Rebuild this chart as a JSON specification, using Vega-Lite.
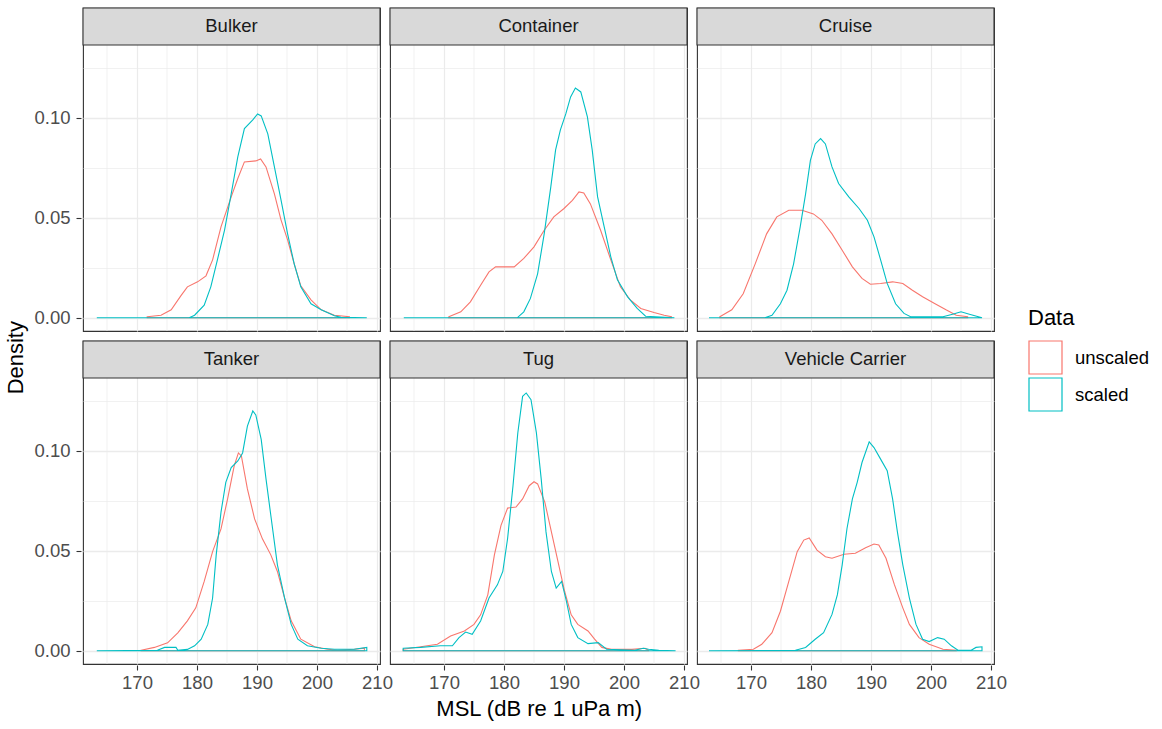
{
  "$schema": "https://vega.github.io/schema/vega-lite/v6.json",
  "padding": {"left": 4, "top": 5, "right": 5, "bottom": 2},
  "title": {"text": "Density", "orient": "left", "anchor": "middle", "fontSize": 22, "fontWeight": "normal", "color": "#000000", "font": "Liberation Sans", "offset": 6, "dx": 5},
  "datasets": {
    "dens": [
      {"Vessel":"Bulker","Data":"unscaled","MSL":171.7,"Density":0.0005},
      {"Vessel":"Bulker","Data":"unscaled","MSL":174.0,"Density":0.0013},
      {"Vessel":"Bulker","Data":"unscaled","MSL":175.7,"Density":0.004},
      {"Vessel":"Bulker","Data":"unscaled","MSL":177.3,"Density":0.011},
      {"Vessel":"Bulker","Data":"unscaled","MSL":178.4,"Density":0.0155},
      {"Vessel":"Bulker","Data":"unscaled","MSL":180.1,"Density":0.018},
      {"Vessel":"Bulker","Data":"unscaled","MSL":181.5,"Density":0.021},
      {"Vessel":"Bulker","Data":"unscaled","MSL":182.6,"Density":0.029},
      {"Vessel":"Bulker","Data":"unscaled","MSL":184.0,"Density":0.0455},
      {"Vessel":"Bulker","Data":"unscaled","MSL":185.7,"Density":0.0605},
      {"Vessel":"Bulker","Data":"unscaled","MSL":186.8,"Density":0.0697},
      {"Vessel":"Bulker","Data":"unscaled","MSL":187.9,"Density":0.078},
      {"Vessel":"Bulker","Data":"unscaled","MSL":189.8,"Density":0.0785},
      {"Vessel":"Bulker","Data":"unscaled","MSL":190.6,"Density":0.0795},
      {"Vessel":"Bulker","Data":"unscaled","MSL":191.5,"Density":0.0755},
      {"Vessel":"Bulker","Data":"unscaled","MSL":192.9,"Density":0.062},
      {"Vessel":"Bulker","Data":"unscaled","MSL":194.0,"Density":0.049},
      {"Vessel":"Bulker","Data":"unscaled","MSL":195.1,"Density":0.039},
      {"Vessel":"Bulker","Data":"unscaled","MSL":196.2,"Density":0.027},
      {"Vessel":"Bulker","Data":"unscaled","MSL":197.3,"Density":0.016},
      {"Vessel":"Bulker","Data":"unscaled","MSL":199.0,"Density":0.009},
      {"Vessel":"Bulker","Data":"unscaled","MSL":200.7,"Density":0.004},
      {"Vessel":"Bulker","Data":"unscaled","MSL":202.9,"Density":0.0013},
      {"Vessel":"Bulker","Data":"unscaled","MSL":205.4,"Density":0.0005},

      {"Vessel":"Container","Data":"unscaled","MSL":170.8,"Density":0.0005},
      {"Vessel":"Container","Data":"unscaled","MSL":172.8,"Density":0.003},
      {"Vessel":"Container","Data":"unscaled","MSL":174.4,"Density":0.008},
      {"Vessel":"Container","Data":"unscaled","MSL":176.1,"Density":0.0163},
      {"Vessel":"Container","Data":"unscaled","MSL":177.5,"Density":0.023},
      {"Vessel":"Container","Data":"unscaled","MSL":178.6,"Density":0.0255},
      {"Vessel":"Container","Data":"unscaled","MSL":180.0,"Density":0.0255},
      {"Vessel":"Container","Data":"unscaled","MSL":181.7,"Density":0.0255},
      {"Vessel":"Container","Data":"unscaled","MSL":183.3,"Density":0.0297},
      {"Vessel":"Container","Data":"unscaled","MSL":185.0,"Density":0.0355},
      {"Vessel":"Container","Data":"unscaled","MSL":186.7,"Density":0.0438},
      {"Vessel":"Container","Data":"unscaled","MSL":188.3,"Density":0.0505},
      {"Vessel":"Container","Data":"unscaled","MSL":190.0,"Density":0.0547},
      {"Vessel":"Container","Data":"unscaled","MSL":191.4,"Density":0.0588},
      {"Vessel":"Container","Data":"unscaled","MSL":192.5,"Density":0.063},
      {"Vessel":"Container","Data":"unscaled","MSL":193.3,"Density":0.0625},
      {"Vessel":"Container","Data":"unscaled","MSL":194.4,"Density":0.057},
      {"Vessel":"Container","Data":"unscaled","MSL":196.1,"Density":0.0438},
      {"Vessel":"Container","Data":"unscaled","MSL":197.8,"Density":0.029},
      {"Vessel":"Container","Data":"unscaled","MSL":199.4,"Density":0.0155},
      {"Vessel":"Container","Data":"unscaled","MSL":201.1,"Density":0.0088},
      {"Vessel":"Container","Data":"unscaled","MSL":202.8,"Density":0.0047},
      {"Vessel":"Container","Data":"unscaled","MSL":205.0,"Density":0.0027},
      {"Vessel":"Container","Data":"unscaled","MSL":206.7,"Density":0.0013},
      {"Vessel":"Container","Data":"unscaled","MSL":207.9,"Density":0.0005},

      {"Vessel":"Cruise","Data":"unscaled","MSL":164.8,"Density":0.0005},
      {"Vessel":"Cruise","Data":"unscaled","MSL":166.8,"Density":0.004},
      {"Vessel":"Cruise","Data":"unscaled","MSL":168.7,"Density":0.012},
      {"Vessel":"Cruise","Data":"unscaled","MSL":170.7,"Density":0.027},
      {"Vessel":"Cruise","Data":"unscaled","MSL":172.6,"Density":0.042},
      {"Vessel":"Cruise","Data":"unscaled","MSL":174.3,"Density":0.0505},
      {"Vessel":"Cruise","Data":"unscaled","MSL":176.3,"Density":0.0538},
      {"Vessel":"Cruise","Data":"unscaled","MSL":178.5,"Density":0.0538},
      {"Vessel":"Cruise","Data":"unscaled","MSL":180.4,"Density":0.052},
      {"Vessel":"Cruise","Data":"unscaled","MSL":181.8,"Density":0.0488},
      {"Vessel":"Cruise","Data":"unscaled","MSL":183.5,"Density":0.042},
      {"Vessel":"Cruise","Data":"unscaled","MSL":185.2,"Density":0.0338},
      {"Vessel":"Cruise","Data":"unscaled","MSL":186.9,"Density":0.0255},
      {"Vessel":"Cruise","Data":"unscaled","MSL":188.5,"Density":0.0197},
      {"Vessel":"Cruise","Data":"unscaled","MSL":189.9,"Density":0.0168},
      {"Vessel":"Cruise","Data":"unscaled","MSL":191.6,"Density":0.0172},
      {"Vessel":"Cruise","Data":"unscaled","MSL":193.6,"Density":0.018},
      {"Vessel":"Cruise","Data":"unscaled","MSL":195.3,"Density":0.0172},
      {"Vessel":"Cruise","Data":"unscaled","MSL":196.9,"Density":0.0138},
      {"Vessel":"Cruise","Data":"unscaled","MSL":198.6,"Density":0.0105},
      {"Vessel":"Cruise","Data":"unscaled","MSL":200.6,"Density":0.0072},
      {"Vessel":"Cruise","Data":"unscaled","MSL":202.5,"Density":0.004},
      {"Vessel":"Cruise","Data":"unscaled","MSL":204.2,"Density":0.0013},
      {"Vessel":"Cruise","Data":"unscaled","MSL":206.1,"Density":0.0005},

      {"Vessel":"Tanker","Data":"unscaled","MSL":170.7,"Density":0.0003},
      {"Vessel":"Tanker","Data":"unscaled","MSL":172.9,"Density":0.0017},
      {"Vessel":"Tanker","Data":"unscaled","MSL":175.1,"Density":0.004},
      {"Vessel":"Tanker","Data":"unscaled","MSL":176.8,"Density":0.009},
      {"Vessel":"Tanker","Data":"unscaled","MSL":178.4,"Density":0.015},
      {"Vessel":"Tanker","Data":"unscaled","MSL":179.8,"Density":0.0215},
      {"Vessel":"Tanker","Data":"unscaled","MSL":181.2,"Density":0.0347},
      {"Vessel":"Tanker","Data":"unscaled","MSL":182.6,"Density":0.0496},
      {"Vessel":"Tanker","Data":"unscaled","MSL":184.0,"Density":0.061},
      {"Vessel":"Tanker","Data":"unscaled","MSL":185.1,"Density":0.076},
      {"Vessel":"Tanker","Data":"unscaled","MSL":186.2,"Density":0.0925},
      {"Vessel":"Tanker","Data":"unscaled","MSL":186.9,"Density":0.099},
      {"Vessel":"Tanker","Data":"unscaled","MSL":187.4,"Density":0.0975},
      {"Vessel":"Tanker","Data":"unscaled","MSL":188.4,"Density":0.081},
      {"Vessel":"Tanker","Data":"unscaled","MSL":189.6,"Density":0.066},
      {"Vessel":"Tanker","Data":"unscaled","MSL":190.9,"Density":0.056},
      {"Vessel":"Tanker","Data":"unscaled","MSL":192.3,"Density":0.048},
      {"Vessel":"Tanker","Data":"unscaled","MSL":193.4,"Density":0.0397},
      {"Vessel":"Tanker","Data":"unscaled","MSL":194.6,"Density":0.0264},
      {"Vessel":"Tanker","Data":"unscaled","MSL":195.7,"Density":0.015},
      {"Vessel":"Tanker","Data":"unscaled","MSL":197.3,"Density":0.0058},
      {"Vessel":"Tanker","Data":"unscaled","MSL":199.6,"Density":0.002},
      {"Vessel":"Tanker","Data":"unscaled","MSL":201.8,"Density":0.0008},
      {"Vessel":"Tanker","Data":"unscaled","MSL":203.4,"Density":0.0003},
      {"Vessel":"Tanker","Data":"unscaled","MSL":206.2,"Density":0.0008},
      {"Vessel":"Tanker","Data":"unscaled","MSL":207.9,"Density":0.0013},

      {"Vessel":"Tug","Data":"unscaled","MSL":163.2,"Density":0.0008},
      {"Vessel":"Tug","Data":"unscaled","MSL":166.1,"Density":0.002},
      {"Vessel":"Tug","Data":"unscaled","MSL":168.9,"Density":0.0033},
      {"Vessel":"Tug","Data":"unscaled","MSL":171.1,"Density":0.0074},
      {"Vessel":"Tug","Data":"unscaled","MSL":173.4,"Density":0.0099},
      {"Vessel":"Tug","Data":"unscaled","MSL":175.0,"Density":0.0132},
      {"Vessel":"Tug","Data":"unscaled","MSL":176.1,"Density":0.018},
      {"Vessel":"Tug","Data":"unscaled","MSL":177.3,"Density":0.028},
      {"Vessel":"Tug","Data":"unscaled","MSL":178.4,"Density":0.048},
      {"Vessel":"Tug","Data":"unscaled","MSL":179.5,"Density":0.0628},
      {"Vessel":"Tug","Data":"unscaled","MSL":180.6,"Density":0.0714},
      {"Vessel":"Tug","Data":"unscaled","MSL":182.0,"Density":0.0719},
      {"Vessel":"Tug","Data":"unscaled","MSL":183.1,"Density":0.076},
      {"Vessel":"Tug","Data":"unscaled","MSL":184.2,"Density":0.0826},
      {"Vessel":"Tug","Data":"unscaled","MSL":185.0,"Density":0.0846},
      {"Vessel":"Tug","Data":"unscaled","MSL":185.6,"Density":0.0835},
      {"Vessel":"Tug","Data":"unscaled","MSL":186.8,"Density":0.0744},
      {"Vessel":"Tug","Data":"unscaled","MSL":187.9,"Density":0.0595},
      {"Vessel":"Tug","Data":"unscaled","MSL":189.0,"Density":0.0446},
      {"Vessel":"Tug","Data":"unscaled","MSL":190.1,"Density":0.0298},
      {"Vessel":"Tug","Data":"unscaled","MSL":191.2,"Density":0.018},
      {"Vessel":"Tug","Data":"unscaled","MSL":192.3,"Density":0.0132},
      {"Vessel":"Tug","Data":"unscaled","MSL":194.0,"Density":0.0099},
      {"Vessel":"Tug","Data":"unscaled","MSL":195.1,"Density":0.0058},
      {"Vessel":"Tug","Data":"unscaled","MSL":196.3,"Density":0.0017},
      {"Vessel":"Tug","Data":"unscaled","MSL":197.9,"Density":0.0007},
      {"Vessel":"Tug","Data":"unscaled","MSL":201.3,"Density":0.0007},
      {"Vessel":"Tug","Data":"unscaled","MSL":203.5,"Density":0.0013},
      {"Vessel":"Tug","Data":"unscaled","MSL":204.1,"Density":0.0003},

      {"Vessel":"Vehicle Carrier","Data":"unscaled","MSL":167.9,"Density":0.0003},
      {"Vessel":"Vehicle Carrier","Data":"unscaled","MSL":170.4,"Density":0.0008},
      {"Vessel":"Vehicle Carrier","Data":"unscaled","MSL":171.8,"Density":0.0033},
      {"Vessel":"Vehicle Carrier","Data":"unscaled","MSL":173.5,"Density":0.0091},
      {"Vessel":"Vehicle Carrier","Data":"unscaled","MSL":174.9,"Density":0.0198},
      {"Vessel":"Vehicle Carrier","Data":"unscaled","MSL":176.3,"Density":0.0347},
      {"Vessel":"Vehicle Carrier","Data":"unscaled","MSL":177.7,"Density":0.0496},
      {"Vessel":"Vehicle Carrier","Data":"unscaled","MSL":178.8,"Density":0.0554},
      {"Vessel":"Vehicle Carrier","Data":"unscaled","MSL":179.7,"Density":0.0565},
      {"Vessel":"Vehicle Carrier","Data":"unscaled","MSL":181.0,"Density":0.0504},
      {"Vessel":"Vehicle Carrier","Data":"unscaled","MSL":182.4,"Density":0.0471},
      {"Vessel":"Vehicle Carrier","Data":"unscaled","MSL":183.5,"Density":0.0463},
      {"Vessel":"Vehicle Carrier","Data":"unscaled","MSL":185.5,"Density":0.0483},
      {"Vessel":"Vehicle Carrier","Data":"unscaled","MSL":187.4,"Density":0.0488},
      {"Vessel":"Vehicle Carrier","Data":"unscaled","MSL":189.1,"Density":0.0516},
      {"Vessel":"Vehicle Carrier","Data":"unscaled","MSL":190.5,"Density":0.0534},
      {"Vessel":"Vehicle Carrier","Data":"unscaled","MSL":191.3,"Density":0.0529},
      {"Vessel":"Vehicle Carrier","Data":"unscaled","MSL":192.5,"Density":0.0463},
      {"Vessel":"Vehicle Carrier","Data":"unscaled","MSL":193.9,"Density":0.0331},
      {"Vessel":"Vehicle Carrier","Data":"unscaled","MSL":195.3,"Density":0.0215},
      {"Vessel":"Vehicle Carrier","Data":"unscaled","MSL":196.4,"Density":0.0132},
      {"Vessel":"Vehicle Carrier","Data":"unscaled","MSL":198.0,"Density":0.0066},
      {"Vessel":"Vehicle Carrier","Data":"unscaled","MSL":199.7,"Density":0.0033},
      {"Vessel":"Vehicle Carrier","Data":"unscaled","MSL":202.0,"Density":0.0008},
      {"Vessel":"Vehicle Carrier","Data":"unscaled","MSL":204.2,"Density":0.0003},

      {"Vessel":"Bulker","Data":"scaled","MSL":163.3,"Density":0},
      {"Vessel":"Bulker","Data":"scaled","MSL":178.7,"Density":0},
      {"Vessel":"Bulker","Data":"scaled","MSL":179.6,"Density":0.0013},
      {"Vessel":"Bulker","Data":"scaled","MSL":181.2,"Density":0.0063},
      {"Vessel":"Bulker","Data":"scaled","MSL":182.3,"Density":0.0155},
      {"Vessel":"Bulker","Data":"scaled","MSL":183.4,"Density":0.029},
      {"Vessel":"Bulker","Data":"scaled","MSL":184.6,"Density":0.044},
      {"Vessel":"Bulker","Data":"scaled","MSL":185.7,"Density":0.062},
      {"Vessel":"Bulker","Data":"scaled","MSL":186.8,"Density":0.0805},
      {"Vessel":"Bulker","Data":"scaled","MSL":187.9,"Density":0.0947},
      {"Vessel":"Bulker","Data":"scaled","MSL":189.3,"Density":0.099},
      {"Vessel":"Bulker","Data":"scaled","MSL":190.1,"Density":0.102},
      {"Vessel":"Bulker","Data":"scaled","MSL":190.7,"Density":0.101},
      {"Vessel":"Bulker","Data":"scaled","MSL":191.8,"Density":0.092},
      {"Vessel":"Bulker","Data":"scaled","MSL":192.9,"Density":0.0755},
      {"Vessel":"Bulker","Data":"scaled","MSL":194.0,"Density":0.059},
      {"Vessel":"Bulker","Data":"scaled","MSL":195.1,"Density":0.042},
      {"Vessel":"Bulker","Data":"scaled","MSL":196.2,"Density":0.027},
      {"Vessel":"Bulker","Data":"scaled","MSL":197.3,"Density":0.0155},
      {"Vessel":"Bulker","Data":"scaled","MSL":199.0,"Density":0.007},
      {"Vessel":"Bulker","Data":"scaled","MSL":200.7,"Density":0.004},
      {"Vessel":"Bulker","Data":"scaled","MSL":202.9,"Density":0.001},
      {"Vessel":"Bulker","Data":"scaled","MSL":204.0,"Density":0.0002},
      {"Vessel":"Bulker","Data":"scaled","MSL":208.3,"Density":0},

      {"Vessel":"Container","Data":"scaled","MSL":163.3,"Density":0},
      {"Vessel":"Container","Data":"scaled","MSL":182.2,"Density":0},
      {"Vessel":"Container","Data":"scaled","MSL":183.3,"Density":0.003},
      {"Vessel":"Container","Data":"scaled","MSL":184.4,"Density":0.0097},
      {"Vessel":"Container","Data":"scaled","MSL":185.6,"Density":0.022},
      {"Vessel":"Container","Data":"scaled","MSL":186.7,"Density":0.042},
      {"Vessel":"Container","Data":"scaled","MSL":187.8,"Density":0.0655},
      {"Vessel":"Container","Data":"scaled","MSL":188.6,"Density":0.084},
      {"Vessel":"Container","Data":"scaled","MSL":189.4,"Density":0.094},
      {"Vessel":"Container","Data":"scaled","MSL":190.3,"Density":0.102},
      {"Vessel":"Container","Data":"scaled","MSL":191.1,"Density":0.1105},
      {"Vessel":"Container","Data":"scaled","MSL":191.9,"Density":0.115},
      {"Vessel":"Container","Data":"scaled","MSL":192.8,"Density":0.113},
      {"Vessel":"Container","Data":"scaled","MSL":193.9,"Density":0.1005},
      {"Vessel":"Container","Data":"scaled","MSL":194.7,"Density":0.084},
      {"Vessel":"Container","Data":"scaled","MSL":195.6,"Density":0.0605},
      {"Vessel":"Container","Data":"scaled","MSL":196.7,"Density":0.0455},
      {"Vessel":"Container","Data":"scaled","MSL":197.8,"Density":0.0305},
      {"Vessel":"Container","Data":"scaled","MSL":198.9,"Density":0.019},
      {"Vessel":"Container","Data":"scaled","MSL":200.6,"Density":0.0105},
      {"Vessel":"Container","Data":"scaled","MSL":202.2,"Density":0.0047},
      {"Vessel":"Container","Data":"scaled","MSL":203.6,"Density":0.0008},
      {"Vessel":"Container","Data":"scaled","MSL":208.4,"Density":0},

      {"Vessel":"Cruise","Data":"scaled","MSL":163.0,"Density":0},
      {"Vessel":"Cruise","Data":"scaled","MSL":172.3,"Density":0},
      {"Vessel":"Cruise","Data":"scaled","MSL":173.5,"Density":0.0013},
      {"Vessel":"Cruise","Data":"scaled","MSL":174.9,"Density":0.007},
      {"Vessel":"Cruise","Data":"scaled","MSL":176.0,"Density":0.0138},
      {"Vessel":"Cruise","Data":"scaled","MSL":177.1,"Density":0.027},
      {"Vessel":"Cruise","Data":"scaled","MSL":178.2,"Density":0.0455},
      {"Vessel":"Cruise","Data":"scaled","MSL":179.1,"Density":0.062},
      {"Vessel":"Cruise","Data":"scaled","MSL":179.9,"Density":0.0788},
      {"Vessel":"Cruise","Data":"scaled","MSL":180.7,"Density":0.087},
      {"Vessel":"Cruise","Data":"scaled","MSL":181.6,"Density":0.0897},
      {"Vessel":"Cruise","Data":"scaled","MSL":182.4,"Density":0.087},
      {"Vessel":"Cruise","Data":"scaled","MSL":183.5,"Density":0.0755},
      {"Vessel":"Cruise","Data":"scaled","MSL":184.6,"Density":0.0672},
      {"Vessel":"Cruise","Data":"scaled","MSL":186.3,"Density":0.0605},
      {"Vessel":"Cruise","Data":"scaled","MSL":188.0,"Density":0.0547},
      {"Vessel":"Cruise","Data":"scaled","MSL":189.4,"Density":0.0488},
      {"Vessel":"Cruise","Data":"scaled","MSL":190.5,"Density":0.0405},
      {"Vessel":"Cruise","Data":"scaled","MSL":191.6,"Density":0.029},
      {"Vessel":"Cruise","Data":"scaled","MSL":192.7,"Density":0.0172},
      {"Vessel":"Cruise","Data":"scaled","MSL":194.1,"Density":0.007},
      {"Vessel":"Cruise","Data":"scaled","MSL":195.5,"Density":0.0022},
      {"Vessel":"Cruise","Data":"scaled","MSL":196.6,"Density":0.0005},
      {"Vessel":"Cruise","Data":"scaled","MSL":202.0,"Density":0.0005},
      {"Vessel":"Cruise","Data":"scaled","MSL":203.6,"Density":0.0018},
      {"Vessel":"Cruise","Data":"scaled","MSL":205.0,"Density":0.003},
      {"Vessel":"Cruise","Data":"scaled","MSL":206.4,"Density":0.0018},
      {"Vessel":"Cruise","Data":"scaled","MSL":208.5,"Density":0},

      {"Vessel":"Tanker","Data":"scaled","MSL":163.3,"Density":0},
      {"Vessel":"Tanker","Data":"scaled","MSL":173.4,"Density":0.0003},
      {"Vessel":"Tanker","Data":"scaled","MSL":174.6,"Density":0.0017},
      {"Vessel":"Tanker","Data":"scaled","MSL":176.5,"Density":0.0017},
      {"Vessel":"Tanker","Data":"scaled","MSL":176.8,"Density":0.0003},
      {"Vessel":"Tanker","Data":"scaled","MSL":178.4,"Density":0.0007},
      {"Vessel":"Tanker","Data":"scaled","MSL":179.6,"Density":0.0025},
      {"Vessel":"Tanker","Data":"scaled","MSL":180.7,"Density":0.0058},
      {"Vessel":"Tanker","Data":"scaled","MSL":181.8,"Density":0.0132},
      {"Vessel":"Tanker","Data":"scaled","MSL":182.6,"Density":0.0264},
      {"Vessel":"Tanker","Data":"scaled","MSL":183.2,"Density":0.048},
      {"Vessel":"Tanker","Data":"scaled","MSL":184.0,"Density":0.0694},
      {"Vessel":"Tanker","Data":"scaled","MSL":184.8,"Density":0.0843},
      {"Vessel":"Tanker","Data":"scaled","MSL":185.7,"Density":0.0917},
      {"Vessel":"Tanker","Data":"scaled","MSL":186.8,"Density":0.095},
      {"Vessel":"Tanker","Data":"scaled","MSL":187.6,"Density":0.099},
      {"Vessel":"Tanker","Data":"scaled","MSL":188.4,"Density":0.1124},
      {"Vessel":"Tanker","Data":"scaled","MSL":189.3,"Density":0.12},
      {"Vessel":"Tanker","Data":"scaled","MSL":189.8,"Density":0.118},
      {"Vessel":"Tanker","Data":"scaled","MSL":190.7,"Density":0.1058},
      {"Vessel":"Tanker","Data":"scaled","MSL":191.5,"Density":0.086},
      {"Vessel":"Tanker","Data":"scaled","MSL":192.3,"Density":0.0678},
      {"Vessel":"Tanker","Data":"scaled","MSL":193.4,"Density":0.043},
      {"Vessel":"Tanker","Data":"scaled","MSL":194.6,"Density":0.0264},
      {"Vessel":"Tanker","Data":"scaled","MSL":195.7,"Density":0.0132},
      {"Vessel":"Tanker","Data":"scaled","MSL":196.8,"Density":0.0058},
      {"Vessel":"Tanker","Data":"scaled","MSL":198.4,"Density":0.0025},
      {"Vessel":"Tanker","Data":"scaled","MSL":200.7,"Density":0.0013},
      {"Vessel":"Tanker","Data":"scaled","MSL":202.9,"Density":0.0008},
      {"Vessel":"Tanker","Data":"scaled","MSL":206.2,"Density":0.0008},
      {"Vessel":"Tanker","Data":"scaled","MSL":208.3,"Density":0.0017},

      {"Vessel":"Tug","Data":"scaled","MSL":163.2,"Density":0.0013},
      {"Vessel":"Tug","Data":"scaled","MSL":166.1,"Density":0.0017},
      {"Vessel":"Tug","Data":"scaled","MSL":169.4,"Density":0.0025},
      {"Vessel":"Tug","Data":"scaled","MSL":171.4,"Density":0.0025},
      {"Vessel":"Tug","Data":"scaled","MSL":172.5,"Density":0.0066},
      {"Vessel":"Tug","Data":"scaled","MSL":173.6,"Density":0.0094},
      {"Vessel":"Tug","Data":"scaled","MSL":174.7,"Density":0.0083},
      {"Vessel":"Tug","Data":"scaled","MSL":176.1,"Density":0.0149},
      {"Vessel":"Tug","Data":"scaled","MSL":177.5,"Density":0.0264},
      {"Vessel":"Tug","Data":"scaled","MSL":178.9,"Density":0.033},
      {"Vessel":"Tug","Data":"scaled","MSL":179.8,"Density":0.0397},
      {"Vessel":"Tug","Data":"scaled","MSL":180.6,"Density":0.0562},
      {"Vessel":"Tug","Data":"scaled","MSL":181.5,"Density":0.0826},
      {"Vessel":"Tug","Data":"scaled","MSL":182.3,"Density":0.109},
      {"Vessel":"Tug","Data":"scaled","MSL":183.1,"Density":0.1273},
      {"Vessel":"Tug","Data":"scaled","MSL":183.7,"Density":0.129},
      {"Vessel":"Tug","Data":"scaled","MSL":184.5,"Density":0.1256},
      {"Vessel":"Tug","Data":"scaled","MSL":185.4,"Density":0.109},
      {"Vessel":"Tug","Data":"scaled","MSL":186.2,"Density":0.086},
      {"Vessel":"Tug","Data":"scaled","MSL":187.0,"Density":0.0595},
      {"Vessel":"Tug","Data":"scaled","MSL":187.9,"Density":0.0397},
      {"Vessel":"Tug","Data":"scaled","MSL":188.7,"Density":0.0314},
      {"Vessel":"Tug","Data":"scaled","MSL":189.6,"Density":0.0347},
      {"Vessel":"Tug","Data":"scaled","MSL":190.4,"Density":0.0248},
      {"Vessel":"Tug","Data":"scaled","MSL":191.2,"Density":0.0132},
      {"Vessel":"Tug","Data":"scaled","MSL":192.3,"Density":0.0066},
      {"Vessel":"Tug","Data":"scaled","MSL":194.0,"Density":0.0036},
      {"Vessel":"Tug","Data":"scaled","MSL":195.7,"Density":0.0041},
      {"Vessel":"Tug","Data":"scaled","MSL":197.1,"Density":0.0008},
      {"Vessel":"Tug","Data":"scaled","MSL":201.8,"Density":0.0003},
      {"Vessel":"Tug","Data":"scaled","MSL":203.2,"Density":0.0013},
      {"Vessel":"Tug","Data":"scaled","MSL":204.1,"Density":0.0008},
      {"Vessel":"Tug","Data":"scaled","MSL":205.8,"Density":0.0003},
      {"Vessel":"Tug","Data":"scaled","MSL":208.6,"Density":0},

      {"Vessel":"Vehicle Carrier","Data":"scaled","MSL":163.0,"Density":0},
      {"Vessel":"Vehicle Carrier","Data":"scaled","MSL":177.4,"Density":0.0003},
      {"Vessel":"Vehicle Carrier","Data":"scaled","MSL":179.1,"Density":0.0017},
      {"Vessel":"Vehicle Carrier","Data":"scaled","MSL":180.7,"Density":0.0058},
      {"Vessel":"Vehicle Carrier","Data":"scaled","MSL":182.1,"Density":0.0091},
      {"Vessel":"Vehicle Carrier","Data":"scaled","MSL":183.5,"Density":0.0182},
      {"Vessel":"Vehicle Carrier","Data":"scaled","MSL":184.4,"Density":0.0281},
      {"Vessel":"Vehicle Carrier","Data":"scaled","MSL":185.2,"Density":0.043},
      {"Vessel":"Vehicle Carrier","Data":"scaled","MSL":186.0,"Density":0.0612},
      {"Vessel":"Vehicle Carrier","Data":"scaled","MSL":186.9,"Density":0.076},
      {"Vessel":"Vehicle Carrier","Data":"scaled","MSL":187.7,"Density":0.0843},
      {"Vessel":"Vehicle Carrier","Data":"scaled","MSL":188.5,"Density":0.0942},
      {"Vessel":"Vehicle Carrier","Data":"scaled","MSL":189.7,"Density":0.1045},
      {"Vessel":"Vehicle Carrier","Data":"scaled","MSL":190.5,"Density":0.1017},
      {"Vessel":"Vehicle Carrier","Data":"scaled","MSL":191.6,"Density":0.0959},
      {"Vessel":"Vehicle Carrier","Data":"scaled","MSL":192.7,"Density":0.0901},
      {"Vessel":"Vehicle Carrier","Data":"scaled","MSL":193.6,"Density":0.076},
      {"Vessel":"Vehicle Carrier","Data":"scaled","MSL":194.4,"Density":0.0595},
      {"Vessel":"Vehicle Carrier","Data":"scaled","MSL":195.3,"Density":0.043},
      {"Vessel":"Vehicle Carrier","Data":"scaled","MSL":196.4,"Density":0.0264},
      {"Vessel":"Vehicle Carrier","Data":"scaled","MSL":197.5,"Density":0.0132},
      {"Vessel":"Vehicle Carrier","Data":"scaled","MSL":198.6,"Density":0.0058},
      {"Vessel":"Vehicle Carrier","Data":"scaled","MSL":199.7,"Density":0.0046},
      {"Vessel":"Vehicle Carrier","Data":"scaled","MSL":201.1,"Density":0.0066},
      {"Vessel":"Vehicle Carrier","Data":"scaled","MSL":202.2,"Density":0.0058},
      {"Vessel":"Vehicle Carrier","Data":"scaled","MSL":203.4,"Density":0.0025},
      {"Vessel":"Vehicle Carrier","Data":"scaled","MSL":204.5,"Density":0.0003},
      {"Vessel":"Vehicle Carrier","Data":"scaled","MSL":206.7,"Density":0.0003},
      {"Vessel":"Vehicle Carrier","Data":"scaled","MSL":207.5,"Density":0.0017},
      {"Vessel":"Vehicle Carrier","Data":"scaled","MSL":208.5,"Density":0.002}
    ]
  },
  "vconcat": [
    {
      "title": {"text": "MSL (dB re 1 uPa m)", "orient": "bottom", "anchor": "middle", "fontSize": 22, "fontWeight": "normal", "color": "#000000", "font": "Liberation Sans", "offset": 7, "dx": 19},
      "data": {"name": "dens"},
      "facet": {
        "field": "Vessel",
        "type": "nominal",
        "title": null,
        "header": {"labels": false, "labelExpr": "''", "labelFontSize": 1, "labelPadding": 0, "title": null}
      },
      "columns": 3,
      "spacing": {"row": 6, "column": 6},
      "spec": {
        "width": 297,
        "height": 323,
        "layer": [
          {
            "transform": [{"aggregate": [{"op": "count", "as": "n"}], "groupby": ["Vessel"]}],
            "mark": {"type": "rule", "color": "#EBEBEB", "strokeWidth": 0.7},
            "encoding": {"x": {"datum": 165, "type": "quantitative"}, "y": {"datum": -0.0066, "type": "quantitative"}, "y2": {"datum": 0.1365}}
          },
          {
            "transform": [{"aggregate": [{"op": "count", "as": "n"}], "groupby": ["Vessel"]}],
            "mark": {"type": "rule", "color": "#EBEBEB", "strokeWidth": 0.7},
            "encoding": {"x": {"datum": 175, "type": "quantitative"}, "y": {"datum": -0.0066, "type": "quantitative"}, "y2": {"datum": 0.1365}}
          },
          {
            "transform": [{"aggregate": [{"op": "count", "as": "n"}], "groupby": ["Vessel"]}],
            "mark": {"type": "rule", "color": "#EBEBEB", "strokeWidth": 0.7},
            "encoding": {"x": {"datum": 185, "type": "quantitative"}, "y": {"datum": -0.0066, "type": "quantitative"}, "y2": {"datum": 0.1365}}
          },
          {
            "transform": [{"aggregate": [{"op": "count", "as": "n"}], "groupby": ["Vessel"]}],
            "mark": {"type": "rule", "color": "#EBEBEB", "strokeWidth": 0.7},
            "encoding": {"x": {"datum": 195, "type": "quantitative"}, "y": {"datum": -0.0066, "type": "quantitative"}, "y2": {"datum": 0.1365}}
          },
          {
            "transform": [{"aggregate": [{"op": "count", "as": "n"}], "groupby": ["Vessel"]}],
            "mark": {"type": "rule", "color": "#EBEBEB", "strokeWidth": 0.7},
            "encoding": {"x": {"datum": 205, "type": "quantitative"}, "y": {"datum": -0.0066, "type": "quantitative"}, "y2": {"datum": 0.1365}}
          },
          {
            "transform": [{"filter": "datum.Data === 'unscaled'"}],
            "mark": {"type": "area", "filled": false, "strokeWidth": 1.1, "interpolate": "linear"},
            "encoding": {
              "x": {
                "field": "MSL", "type": "quantitative",
                "scale": {"domain": [161, 210.5], "nice": false, "zero": false},
                "axis": {
                  "title": null,
                  "values": [170, 180, 190, 200, 210],
                  "format": "d",
                  "labelOverlap": false,
                  "labelFlush": false,
                  "gridWidth": 1.2
                }
              },
              "y": {
                "field": "Density", "type": "quantitative",
                "scale": {"domain": [-0.0066, 0.155], "nice": false, "zero": false},
                "axis": {
                  "title": null,
                  "values": [0, 0.025, 0.05, 0.075, 0.1, 0.125],
                  "format": ".2f",
                  "labelOverlap": false,
                  "labelExpr": "round(datum.value * 40) % 2 === 1 ? '' : datum.label",
                  "tickOpacity": {"condition": {"test": "round(datum.value * 40) % 2 === 1", "value": 0}, "value": 1},
                  "gridWidth": {"condition": {"test": "round(datum.value * 40) % 2 === 1", "value": 0.7}, "value": 1.3},
                  "labelPadding": 6
                }
              },
              "y2": {"datum": 0},
              "color": {
                "field": "Data", "type": "nominal",
                "scale": {"domain": ["unscaled", "scaled"], "range": ["#F8766D", "#00BFC4"]},
                "legend": {
                  "title": "Data", "orient": "none", "legendX": 945, "legendY": 300,
                  "symbolType": "square", "symbolSize": 1089, "symbolStrokeWidth": 1.2,
                  "symbolFillColor": "transparent",
                  "labelFontSize": 18.5, "labelColor": "#000000", "labelFont": "Liberation Sans",
                  "titleFontSize": 22, "titleFontWeight": "normal", "titleColor": "#000000", "titleFont": "Liberation Sans",
                  "labelOffset": 12, "rowPadding": -11, "titlePadding": 10
                }
              }
            }
          },
          {
            "transform": [{"filter": "datum.Data === 'scaled'"}],
            "mark": {"type": "area", "filled": false, "strokeWidth": 1.1, "interpolate": "linear"},
            "encoding": {
              "x": {"field": "MSL", "type": "quantitative"},
              "y": {"field": "Density", "type": "quantitative"},
              "y2": {"datum": 0},
              "color": {"field": "Data", "type": "nominal"}
            }
          },
          {
            "transform": [{"aggregate": [{"op": "count", "as": "n"}], "groupby": ["Vessel"]}],
            "mark": {"type": "rect", "fill": "#D9D9D9", "stroke": "#333333", "strokeWidth": 1.1},
            "encoding": {
              "x": {"datum": 161, "type": "quantitative"},
              "x2": {"datum": 210.5},
              "y": {"datum": 0.1365, "type": "quantitative"},
              "y2": {"datum": 0.155}
            }
          },
          {
            "transform": [{"aggregate": [{"op": "count", "as": "n"}], "groupby": ["Vessel"]}],
            "mark": {"type": "text", "fontSize": 18.5, "color": "#1A1A1A", "baseline": "middle", "align": "center", "font": "Liberation Sans"},
            "encoding": {
              "x": {"datum": 185.75, "type": "quantitative"},
              "y": {"datum": 0.1458, "type": "quantitative"},
              "text": {"field": "Vessel", "type": "nominal"}
            }
          }
        ]
      }
    }
  ],
  "config": {
    "font": "Liberation Sans",
    "view": {"stroke": "#333333", "strokeWidth": 1.1},
    "axis": {
      "domain": false,
      "grid": true,
      "gridColor": "#EBEBEB",
      "tickColor": "#333333",
      "tickSize": 5,
      "tickWidth": 1.1,
      "labelColor": "#4D4D4D",
      "labelFontSize": 18.5,
      "labelFont": "Liberation Sans",
      "labelPadding": 3
    }
  }
}
